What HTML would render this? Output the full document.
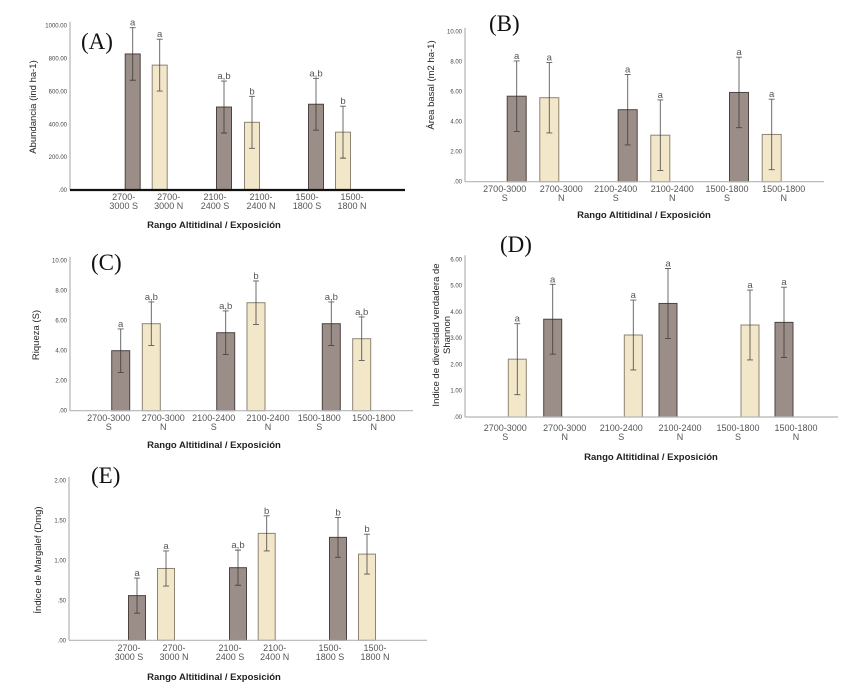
<!DOCTYPE html>
<html><head><meta charset="utf-8"><style>
body{margin:0;background:#fff}
svg{display:block;font-family:"Liberation Sans",sans-serif}
</style></head><body>
<svg id="fig" width="855" height="684" viewBox="0 0 855 684"></svg>
<script>
const categories=["2700-3000 S","2700-3000 N","2100-2400 S","2100-2400 N","1500-1800 S","1500-1800 N"];
const aValues=[828,760,505,412,522,352];
const aErr=[160,158,158,158,158,158];
const aLetters=["a","a","a,b","b","a,b","b"];
const aTicks=[0,200,400,600,800,1000];
const aTickLabels=[".00","200.00","400.00","600.00","800.00","1000.00"];
const bValues=[5.7,5.6,4.8,3.1,5.95,3.15];
const bErr=[2.35,2.35,2.35,2.35,2.35,2.35];
const bLetters=["a","a","a","a","a","a"];
const bTicks=[0,2,4,6,8,10];
const bTickLabels=[".00","2.00","4.00","6.00","8.00","10.00"];
const cValues=[4.0,5.8,5.2,7.2,5.8,4.8];
const cErr=[1.45,1.45,1.45,1.45,1.45,1.45];
const cLetters=["a","a,b","a,b","b","a,b","a,b"];
const cTicks=[0,2,4,6,8,10];
const cTickLabels=[".00","2.00","4.00","6.00","8.00","10.00"];
const dValues=[2.2,3.72,3.12,4.32,3.5,3.6];
const dErr=[1.35,1.33,1.33,1.33,1.33,1.34];
const dLetters=["a","a","a","a","a","a"];
const dTicks=[0,1,2,3,4,5,6];
const dTickLabels=[".00","1.00","2.00","3.00","4.00","5.00","6.00"];
const eValues=[0.56,0.9,0.91,1.34,1.29,1.08];
const eErr=[0.22,0.22,0.22,0.22,0.25,0.25];
const eLetters=["a","a","a,b","b","b","b"];
const eTicks=[0,0.5,1,1.5,2];
const eTickLabels=[".00",".50","1.00","1.50","2.00"];

const NS="http://www.w3.org/2000/svg";
const svg=document.getElementById('fig');
function mk(tag,attrs,parent,text){const e=document.createElementNS(NS,tag);for(const k in attrs)e.setAttribute(k,attrs[k]);if(text!==undefined)e.textContent=text;(parent||svg).appendChild(e);return e;}
const DARK={fill:"#9b8d87",stroke:"#4d4441"},LIGHT={fill:"#f3e7ca",stroke:"#8d8473"};

function panel(o){
  const g=mk('g',{});
  
  
  const y=v=>o.y0-(v-o.tmin)/(o.tmax-o.tmin)*(o.y0-o.ytop);
  const ya=mk('line',{x1:o.ax,y1:o.y0,x2:o.ax,y2:o.ytop-4,stroke:"#b5b5b5","stroke-width":1.2},g);
  
  o.ticks.forEach((t,i)=>{
    const tl=mk('text',{x:o.ax-3,y:y(t)+2,"font-size":6,"text-anchor":"end",fill:"#444"},g,o.tickLabels[i]);
    
  });
  o.values.forEach((v,i)=>{
    const c=o.colors[i];const cx=o.cx[i];
    const r=mk('rect',{x:cx-o.bw/2,y:y(v),width:o.bw,height:o.y0-y(v),fill:c.fill,stroke:c.stroke,"stroke-width":1},g);
    
    const lo=v-o.err[i],hi=v+o.err[i];
    const eb=mk('path',{d:`M${cx},${y(lo)}V${y(hi)}M${cx-3},${y(lo)}H${cx+3}M${cx-3},${y(hi)}H${cx+3}`,stroke:"#333","stroke-width":0.9,fill:"none","stroke-opacity":0.8},g);
    
    const lt=mk('text',{x:cx,y:y(hi)-2,"font-size":9.5,"text-anchor":"middle",fill:"#555"},g,o.letters[i]);
    
    const lx=cx+(i%2?o.shift:-o.shift);
    o.split(categories[i]).forEach((p,j)=>{
      const xl=mk('text',{x:lx,y:o.ly+j*9,"font-size":9,"text-anchor":"middle",fill:"#555"},g,p);
      
    });
  });
  const xa=mk('line',{x1:o.ax,y1:o.y0,x2:o.axEnd,y2:o.y0,stroke:o.thick?"#111":"#b5b5b5","stroke-width":o.thick?2.2:1.2},g);
  
  const xt=mk('text',{x:o.titleX,y:o.titleY,"font-size":9.5,"font-weight":"bold","text-anchor":"middle",fill:"#222"},g,"Rango Altitidinal / Exposición");
  
  o.ytitle.forEach((s,j)=>{
    const yt=mk('text',{transform:`translate(${o.ytx+j*11},${o.yty}) rotate(-90)`,"font-size":9.5,"text-anchor":"middle",fill:"#222"},g,s);
    
  });
  const pl=mk('text',{x:o.lx,y:o.lyy,"font-size":23,"font-family":"Liberation Serif, serif",fill:"#111"},g,"("+o.id.toUpperCase()+")");
  
}
const twoLineHyphen=s=>{const p=s.split('-');return [p[0]+'-',p[1]];};
const twoLineSpace=s=>{const i=s.lastIndexOf(' ');return [s.slice(0,i),s.slice(i+1)];};
const DL=[DARK,LIGHT,DARK,LIGHT,DARK,LIGHT],LD=[LIGHT,DARK,LIGHT,DARK,LIGHT,DARK];

panel({id:'a',ax:70,axEnd:405,y0:190,ytop:25.7,tmin:0,tmax:1000,ticks:aTicks,tickLabels:aTickLabels,values:aValues,err:aErr,letters:aLetters,
  cx:[132.7,159.7,224,252,316,343],bw:15,colors:DL,split:twoLineHyphen,shift:9,ly:200,titleX:214,titleY:228,thick:true,
  ytitle:["Abundancia (ind ha-1)"],ytx:36,yty:107,lx:81,lyy:49});
panel({id:'b',ax:465,axEnd:824,y0:181.7,ytop:31.7,tmin:0,tmax:10,ticks:bTicks,tickLabels:bTickLabels,values:bValues,err:bErr,letters:bLetters,
  cx:[516.7,549.3,627.7,660.3,739,771.7],bw:19,colors:DL,split:twoLineSpace,shift:12,ly:192,titleX:644,titleY:218,
  ytitle:["Área basal (m2 ha-1)"],ytx:434,yty:85,lx:489,lyy:31});
panel({id:'c',ax:70,axEnd:413,y0:410.7,ytop:260.7,tmin:0,tmax:10,ticks:cTicks,tickLabels:cTickLabels,values:cValues,err:cErr,letters:cLetters,
  cx:[120.7,151.3,225.7,256,331.3,361.7],bw:18,colors:DL,split:twoLineSpace,shift:12,ly:421,titleX:214,titleY:448,
  ytitle:["Riqueza (S)"],ytx:39,yty:335,lx:91,lyy:270});
panel({id:'d',ax:465,axEnd:838,y0:417,ytop:259.3,tmin:0,tmax:6,ticks:dTicks,tickLabels:dTickLabels,values:dValues,err:dErr,letters:dLetters,
  cx:[517.3,552.7,633.3,668,750,784],bw:18,colors:LD,split:twoLineSpace,shift:12,ly:431,titleX:651,titleY:460,
  ytitle:["Indice de diversidad verdadera de","Shannon"],ytx:439,yty:335,lx:500,lyy:252});
panel({id:'e',ax:69,axEnd:427,y0:640.3,ytop:480.7,tmin:0,tmax:2,ticks:eTicks,tickLabels:eTickLabels,values:eValues,err:eErr,letters:eLetters,
  cx:[137,166,238,266.7,338,367],bw:17,colors:DL,split:twoLineHyphen,shift:8,ly:651,titleX:214,titleY:680,
  ytitle:["Índice de Margalef (Dmg)"],ytx:41,yty:560,lx:91,lyy:483});
</script>
</body></html>
